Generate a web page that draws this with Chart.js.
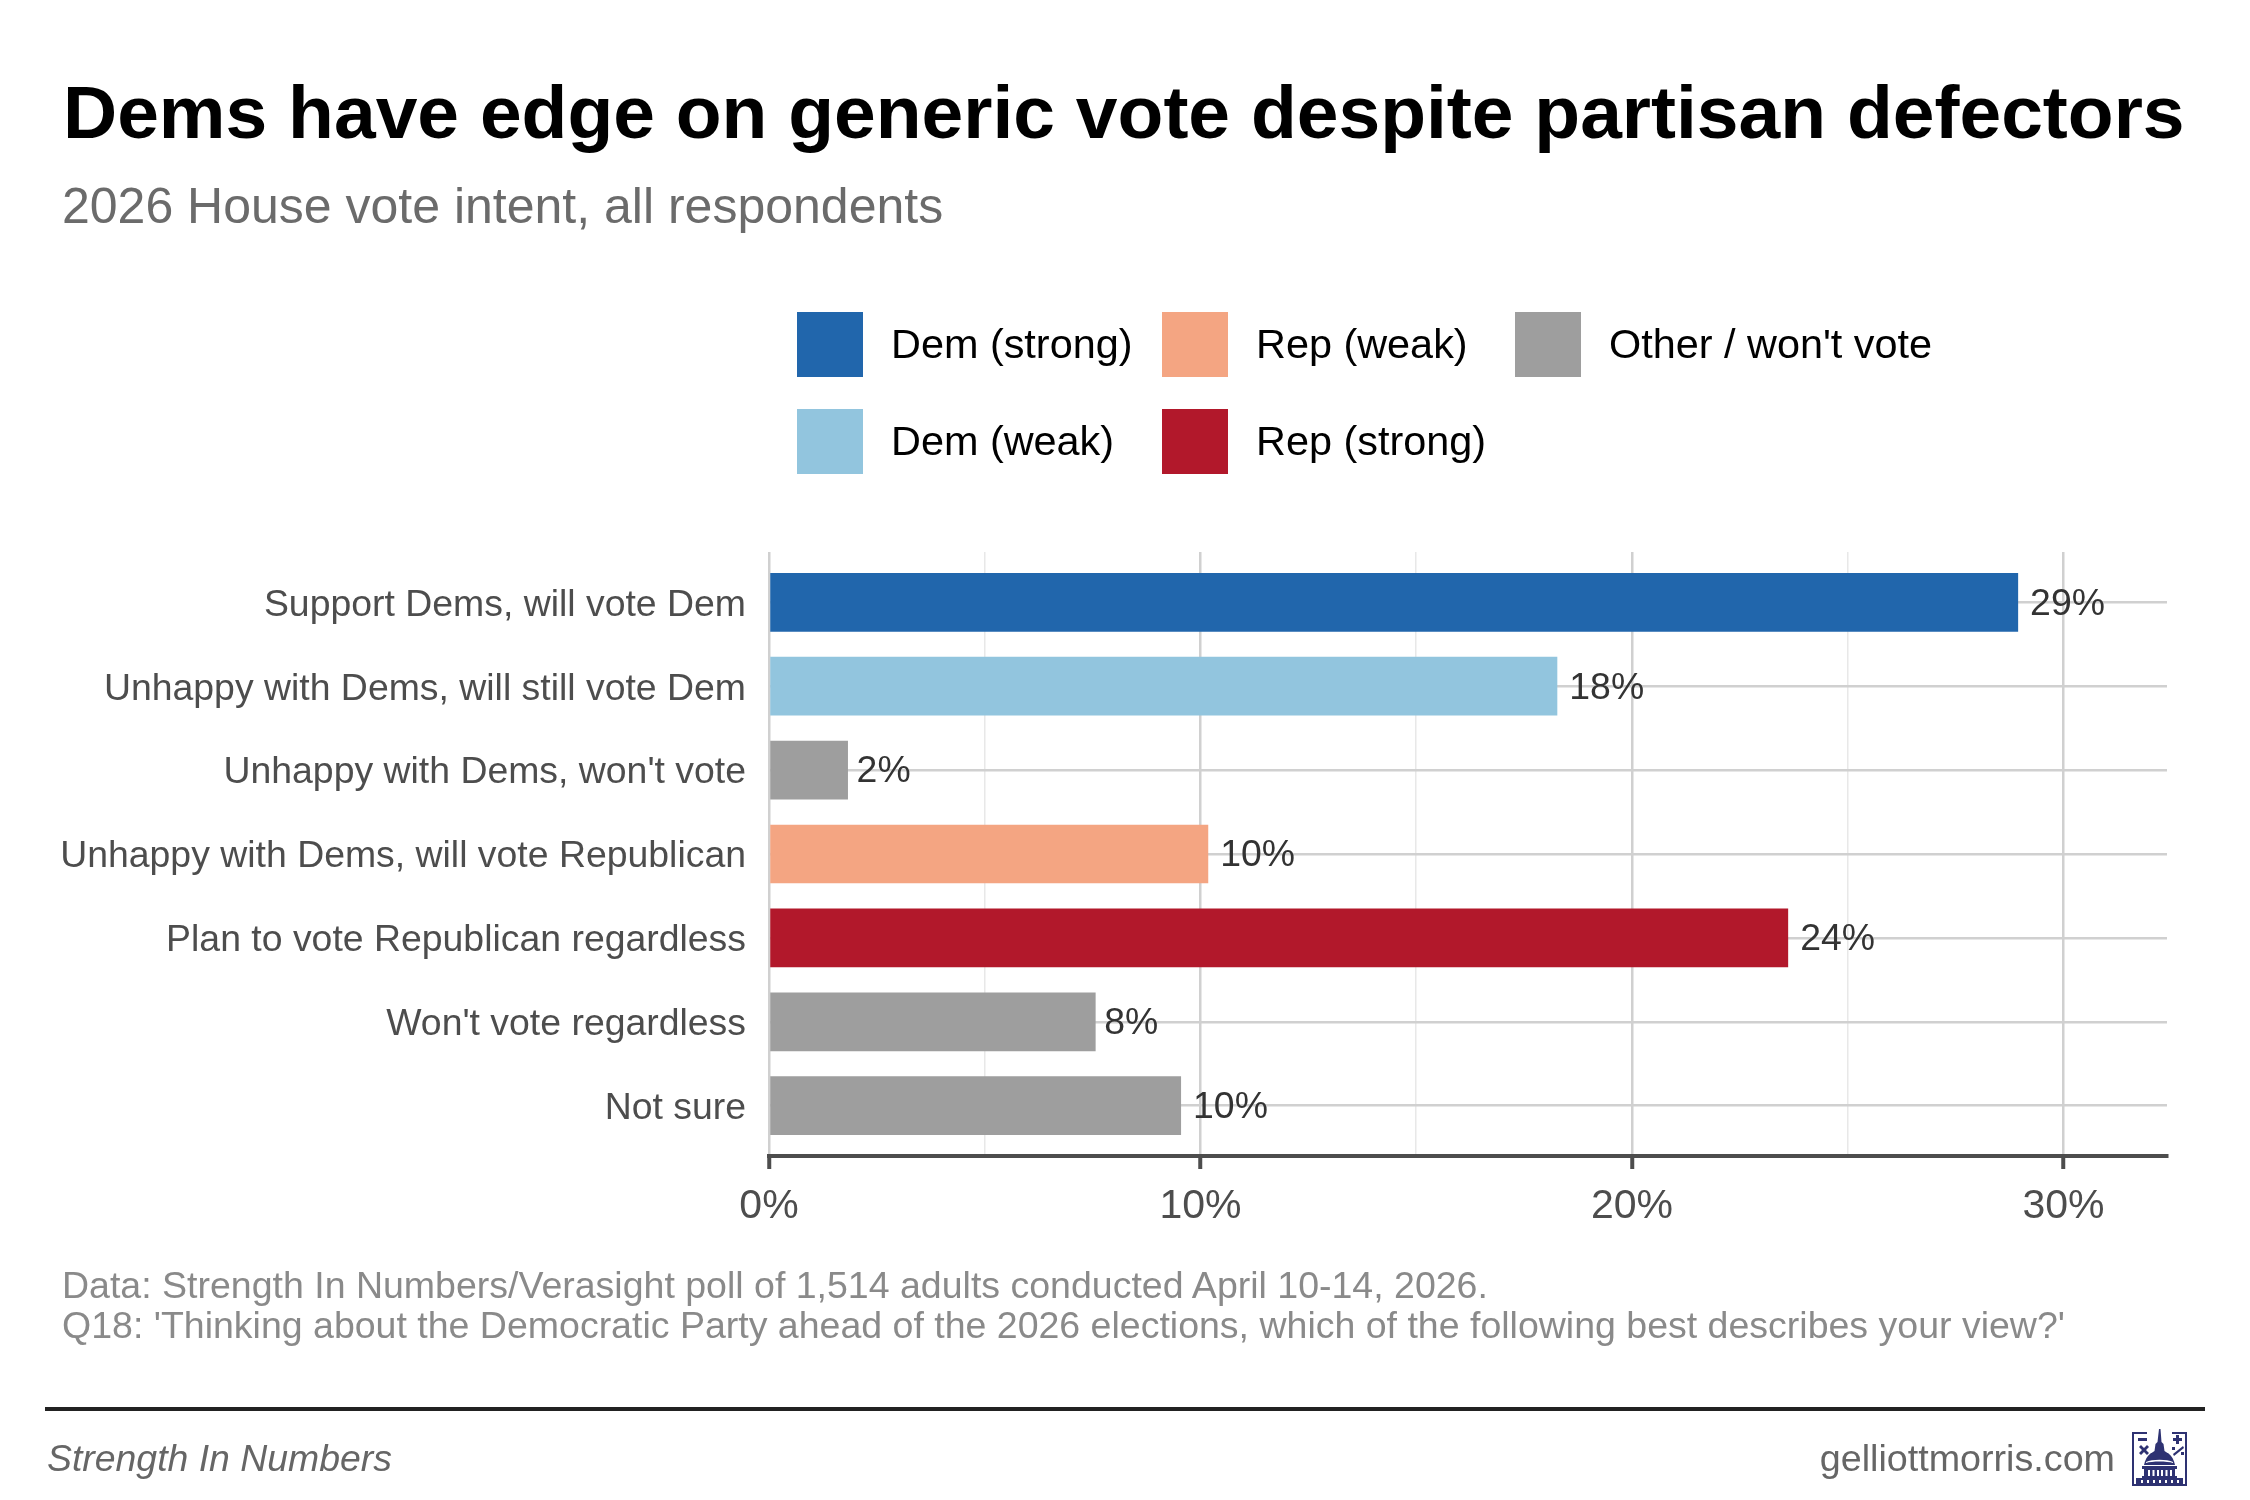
<!DOCTYPE html>
<html>
<head>
<meta charset="utf-8">
<title>Dems have edge on generic vote despite partisan defectors</title>
<script src="https://cdn.jsdelivr.net/npm/chart.js@4"></script>
<style>
  html, body { margin: 0; padding: 0; background: #fff; }
  body { position: relative; width: 2250px; height: 1500px; overflow: hidden; font-family: "Liberation Sans", Arial, sans-serif; }
  canvas { position: absolute; left: 0; top: 0; }
  .txt { position: absolute; white-space: nowrap; line-height: normal; }
  #title { left: 63px; top: 69px; font-size: 75px; font-weight: bold; color: #000; }
  #subtitle { left: 62px; top: 177px; font-size: 50px; color: #6b6b6b; }
  .cap { left: 62px; font-size: 37.5px; color: #8a8a8a; }
  #rule { position: absolute; left: 45px; top: 1407px; width: 2160px; height: 4px; background: #222; }
  #brand { left: 47px; top: 1437px; font-size: 37.4px; font-style: italic; color: #666; }
  #site { right: 135px; top: 1437px; font-size: 37.7px; color: #666; }
  #logo { position: absolute; left: 2132px; top: 1429px; }
  .swatch { position: absolute; width: 66px; height: 65px; }
  .legtxt { font-size: 41.4px; color: #000; }
</style>
</head>
<body>
<canvas id="chartId" width="2250" height="1500"></canvas>
<div id="title" class="txt">Dems have edge on generic vote despite partisan defectors</div>
<div id="subtitle" class="txt">2026 House vote intent, all respondents</div>
<div class="txt cap" style="top:1264px">Data: Strength In Numbers/Verasight poll of 1,514 adults conducted April 10-14, 2026.</div>
<div class="txt cap" style="top:1304px">Q18: 'Thinking about the Democratic Party ahead of the 2026 elections, which of the following best describes your view?'</div>
<div id="rule"></div>
<div id="brand" class="txt">Strength In Numbers</div>
<div id="site" class="txt">gelliottmorris.com</div>
<svg id="logo" width="55" height="57" viewBox="0 0 55 57">
  <g fill="#2e3272">
    <path d="M0 3H15V5H2V55H53V5H40V3H55V57H0Z"/>
    <rect x="6" y="9" width="9" height="3"/>
    <rect x="41" y="9" width="9" height="3"/>
    <rect x="44" y="6" width="3" height="9"/>
    <path d="M7 18l2-2 3 3 3-3 2 2-3 3 3 3-2 2-3-3-3 3-2-2 3-3z"/>
    <path d="M41 25l10-8 1 2-10 8z"/>
    <rect x="40" y="18" width="3" height="3"/>
    <rect x="49" y="23" width="3" height="3"/>
    <path d="M27 0h1.500l1 13 2 2 1 7 3 2h-16l3-2 1-7 2-2z"/>
    <path d="M19 24h17c4 3 6 7 7 12H12c1-5 3-9 7-12z"/>
    <path d="M10 37h35v3h-2v7h2v3H10v-3h2v-7h-2z"/>
    <path d="M4 49h47v6H4z"/>
  </g>
  <g fill="#fff">
    <path d="M14 33c6-3 21-3 27 0v1c-6-2-21-2-27 0z"/>
    <rect x="16" y="41" width="2" height="6"/><rect x="20.500" y="41" width="2" height="6"/>
    <rect x="25" y="41" width="2" height="6"/><rect x="29" y="41" width="2" height="6"/>
    <rect x="33.500" y="41" width="2" height="6"/><rect x="38" y="41" width="2" height="6"/>
    <rect x="9" y="51" width="2" height="3"/><rect x="15" y="51" width="2" height="3"/>
    <rect x="21" y="51" width="2" height="3"/><rect x="27" y="51" width="2" height="3"/>
    <rect x="33" y="51" width="2" height="3"/><rect x="39" y="51" width="2" height="3"/>
    <rect x="45" y="51" width="2" height="3"/>
  </g>
</svg>
<script>
// poll question responses
var categories = [
    "Support Dems, will vote Dem",
    "Unhappy with Dems, will still vote Dem",
    "Unhappy with Dems, won't vote",
    "Unhappy with Dems, will vote Republican",
    "Plan to vote Republican regardless",
    "Won't vote regardless",
    "Not sure"
];
var shares = [28.95, 18.27, 1.83, 10.18, 23.62, 7.57, 9.55];
var barColors = ['#2166ac', '#92c5de', '#9e9e9e', '#f4a582', '#b2182b', '#9e9e9e', '#9e9e9e'];
var valueLabels = ["29%", "18%", "2%", "10%", "24%", "8%", "10%"];
var xTickLabels = { 0: "0%", 10: "10%", 20: "20%", 30: "30%" };

var legendLabels = ["Dem (strong)", "Dem (weak)", "Rep (weak)", "Rep (strong)", "Other / won't vote"];
var legendColors = ['#2166ac', '#92c5de', '#f4a582', '#b2182b', '#9e9e9e'];
var legendX = [797, 797, 1162, 1162, 1515];
var legendY = [312, 409, 312, 409, 312];

// legend
legendLabels.forEach(function (label, i) {
    var box = document.createElement('div');
    box.className = 'swatch';
    box.style.left = legendX[i] + 'px';
    box.style.top = legendY[i] + 'px';
    box.style.background = legendColors[i];
    document.body.appendChild(box);
    var txt = document.createElement('div');
    txt.className = 'txt legtxt';
    txt.style.left = (legendX[i] + 94) + 'px';
    txt.style.top = (legendY[i] + 9) + 'px';
    txt.textContent = label;
    document.body.appendChild(txt);
});

// value labels at bar ends, gap grows with the label width
var barLabels = {
    id: 'barLabels',
    afterDatasetsDraw: function (chart) {
        var ctx = chart.ctx;
        var meta = chart.getDatasetMeta(0);
        ctx.save();
        ctx.font = '37.4px "Liberation Sans"';
        ctx.fillStyle = '#333333';
        ctx.textAlign = 'left';
        ctx.textBaseline = 'middle';
        meta.data.forEach(function (bar, i) {
            var gap = ctx.measureText(valueLabels[i]).width * 0.16;
            ctx.fillText(valueLabels[i], bar.x + gap, bar.y + 2);
        });
        ctx.restore();
    }
};

var chrt = document.getElementById("chartId").getContext("2d");
var chartId = new Chart(chrt, {
    type: 'bar',
    data: {
        labels: categories,
        datasets: [{
            data: shares.map(function (v, i) { return { x: v, y: i }; }),
            backgroundColor: barColors,
            barPercentage: 0.7,
            categoryPercentage: 1
        }]
    },
    options: {
        indexAxis: 'y',
        responsive: false,
        animation: false,
        devicePixelRatio: 1,
        layout: { padding: { top: 552, right: 83, bottom: 0, left: 0 } },
        plugins: { legend: { display: false }, tooltip: { enabled: false } },
        scales: {
            x: {
                type: 'linear',
                position: 'bottom',
                min: 0,
                max: 32.4,
                afterFit: function (scale) { scale.height = 344; },
                border: { color: '#4d4d4d', width: 4 },
                grid: {
                    color: function (c) { return c.tick.value % 10 === 0 ? '#d0d0d0' : '#e8e8e8'; },
                    lineWidth: function (c) { return c.tick.value % 10 === 0 ? 2.5 : 1.5; },
                    tickColor: '#4d4d4d',
                    tickWidth: function (c) { return c.tick.value % 10 === 0 ? 4 : 0; },
                    tickLength: 13
                },
                ticks: {
                    stepSize: 5,
                    includeBounds: false,
                    maxRotation: 0,
                    autoSkip: false,
                    padding: 13,
                    color: '#4d4d4d',
                    font: { family: 'Liberation Sans', size: 41 },
                    callback: function (v) { return xTickLabels[v] || ''; }
                }
            },
            y: {
                type: 'linear',
                position: 'left',
                reverse: true,
                offset: false,
                min: -0.6,
                max: 6.6,
                afterFit: function (scale) { scale.width = 769; },
                border: { display: false },
                grid: { offset: false, color: '#d0d0d0', lineWidth: 2.5, drawTicks: false },
                ticks: {
                    stepSize: 1,
                    includeBounds: false,
                    autoSkip: false,
                    padding: 23,
                    labelOffset: 3,
                    color: '#4d4d4d',
                    font: { family: 'Liberation Sans', size: 37.4 },
                    callback: function (v) { return categories[v]; }
                }
            }
        }
    },
    plugins: [barLabels]
});
</script>
</body>
</html>
